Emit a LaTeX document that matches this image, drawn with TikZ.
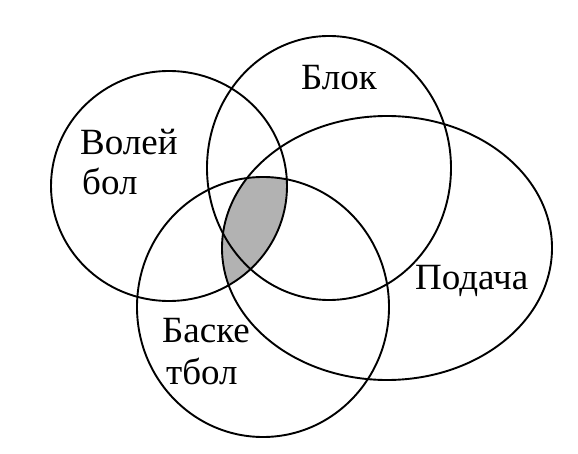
\documentclass[tikz,border=0pt]{standalone}
\usepackage{fontspec}
\setmainfont{Liberation Serif}
\begin{document}
\begin{tikzpicture}[x=1pt,y=-1pt,
  outline/.style={draw=black, line width=1.9pt},
  shade/.style={fill=black!30},
  lbl/.style={font=\fontsize{37}{41}\selectfont, inner sep=0pt, anchor=base west}]
\useasboundingbox[fill=white] (0,0) rectangle (578,454);
% shaded region: Volleyball ∩ Basketball ∩ Serve
\begin{scope}
  \clip (169,186) ellipse [x radius=118pt, y radius=115pt];
  \clip (263,307) ellipse [x radius=126pt, y radius=130pt];
  \fill[shade] (387,248) ellipse [x radius=165pt, y radius=132pt];
\end{scope}
% outlines
\draw[outline] (169,186) ellipse [x radius=118pt, y radius=115pt];
\draw[outline] (329,168) ellipse [x radius=122pt, y radius=132pt];
\draw[outline] (387,248) ellipse [x radius=165pt, y radius=132pt];
\draw[outline] (263,307) ellipse [x radius=126pt, y radius=130pt];
% labels
\node[lbl] (volleyA) at (80,155) {Волей};
\node[lbl] (volleyB) at (82,195) {бол};
\node[lbl] (blok) at (301,90) {Блок};
\node[lbl] (podacha) at (415,290) {Подача};
\node[lbl] (basketA) at (162,342) {Баске};
\node[lbl] (basketB) at (166,384) {тбол};
\end{tikzpicture}
\end{document}
